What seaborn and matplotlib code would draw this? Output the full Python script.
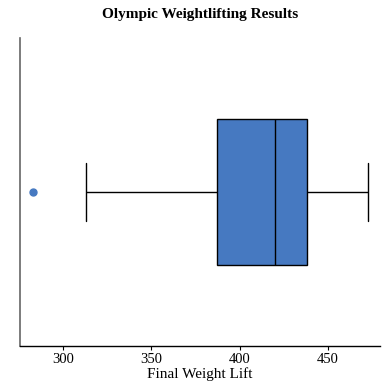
import matplotlib
matplotlib.use("Agg")
import matplotlib.pyplot as plt
import pandas as pd
import seaborn as sns

# final lifts (kg) -- picked so the quartiles match the reference box
final_lifts = [283, 313, 355, 387, 395, 410, 420, 425, 430, 438, 445, 460, 473]
x_ticks = [300, 350, 400, 450]

box_color = "#4679c1"

sns.set_theme(style="white")
plt.rcParams["font.family"] = ["Liberation Serif", "DejaVu Serif"]
plt.rcParams["text.color"] = "black"
plt.rcParams["axes.labelcolor"] = "black"

df = pd.DataFrame({"Final Weight Lift": final_lifts})

fig = plt.figure(figsize=(3.9, 3.9), dpi=100)
ax = fig.add_axes([0.051, 0.113, 0.923, 0.79])

sns.boxplot(
    data=df,
    x="Final Weight Lift",
    orient="h",
    width=0.474,
    color=box_color,
    saturation=1,
    linecolor="black",
    linewidth=1,
    whis=1.5,
    capwidths=0.19,
    flierprops=dict(marker="o", markerfacecolor=box_color, markeredgecolor=box_color, markersize=5),
    ax=ax,
)

ax.set_xlim(275.6, 479.5)
ax.set_ylim(0.5, -0.5)
ax.set_xticks(x_ticks)
ax.set_yticks([])
ax.tick_params(axis="x", bottom=True, length=3, width=0.8, labelsize=10.5, pad=2, colors="black")
ax.set_xlabel("Final Weight Lift", fontsize=11, labelpad=1, color="black")
ax.set_ylabel("")
ax.set_title("Olympic Weightlifting Results", fontsize=11, fontweight="bold", pad=14, color="black")

sns.despine(ax=ax)
ax.spines["left"].set_color("#666666")
ax.spines["left"].set_linewidth(1.2)
ax.spines["bottom"].set_color("black")
ax.spines["bottom"].set_linewidth(1)

fig.savefig("out.png", dpi=100)
